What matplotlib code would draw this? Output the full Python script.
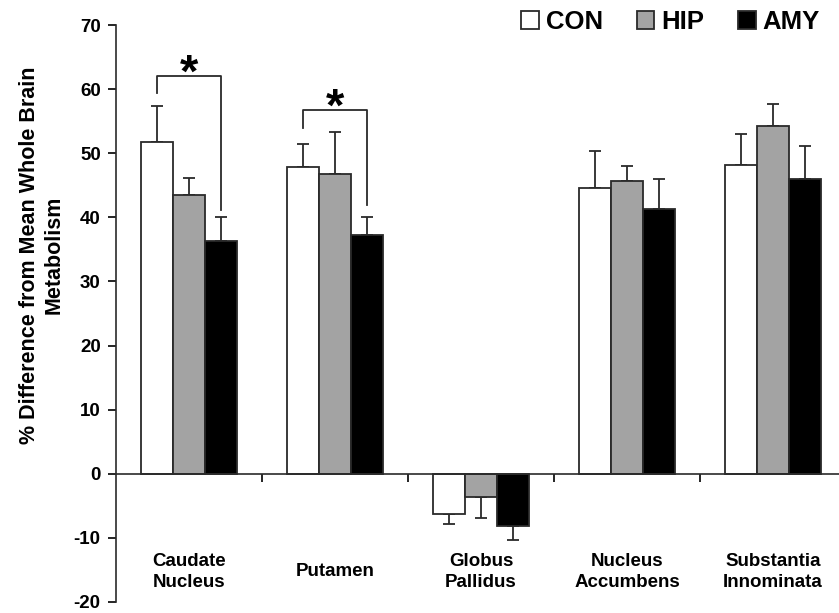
import numpy as np
import matplotlib.pyplot as plt

plt.rcParams['font.family'] = 'Liberation Sans'
plt.rcParams['font.weight'] = 'bold'
plt.rcParams['axes.unicode_minus'] = False

regions = ['Caudate\nNucleus', 'Putamen', 'Globus\nPallidus', 'Nucleus\nAccumbens', 'Substantia\nInnominata']
groups = ['CON', 'HIP', 'AMY']
con = [51.8, 47.9, -6.2, 44.5, 48.2]
hip = [43.5, 46.8, -3.6, 45.6, 54.3]
amy = [36.3, 37.2, -8.2, 41.3, 46.0]
con_err = [5.6, 3.6, 1.7, 5.8, 4.8]
hip_err = [2.6, 6.5, 3.3, 2.4, 3.4]
amy_err = [3.8, 2.9, 2.1, 4.7, 5.2]
colors = ['white', '#a3a3a3', 'black']

fig = plt.figure(figsize=(8.39, 6.13), dpi=100)
ax = fig.add_axes([116/839, 11/613, 730/839, 577/613])

x = np.arange(len(regions))
w = 0.22
series = [con, hip, amy]
errs = [con_err, hip_err, amy_err]
for i in range(3):
    pos = x + (i - 1) * w
    vals = np.array(series[i])
    e = np.array(errs[i])
    ax.bar(pos, vals, w, color=colors[i], edgecolor='#2a2a2a', linewidth=1.3, label=groups[i], zorder=2)
    # one-sided error bars, away from zero
    lo = np.where(vals < 0, e, 0)
    hi = np.where(vals >= 0, e, 0)
    ax.errorbar(pos, vals, yerr=[lo, hi], fmt='none', ecolor='#2a2a2a', elinewidth=1.3, capsize=4, capthick=1.3, zorder=1)

# significance brackets
brackets = [(0, 62.0, 59.4, 41.2, 62.3), (1, 56.7, 54.0, 42.0, 56.9)]
for g, top, left_end, right_end, star_y in brackets:
    xl, xr = g - w, g + w
    ax.plot([xl, xl, xr, xr], [left_end, top, top, right_end], color='#2a2a2a', lw=1.3)
    ax.text(g, star_y, '*', ha='center', va='center', fontsize=34, fontweight='bold')

ax.set_xlim(-0.5, 4.5)
ax.set_ylim(-20, 70)
ax.set_yticks(np.arange(-20, 71, 10))
ax.tick_params(axis='y', direction='out', length=6, width=1.2, labelsize=13.5, pad=5)
ax.set_xticks(x + 0.5)
ax.set_xticklabels([])
ax.tick_params(axis='x', direction='out', length=6, width=1.2)
ax.spines['bottom'].set_position(('data', 0))
ax.spines['top'].set_visible(False)
ax.spines['right'].set_visible(False)
for s in ['left', 'bottom']:
    ax.spines[s].set_linewidth(1.2)
    ax.spines[s].set_color('#2a2a2a')

for i, r in enumerate(regions):
    ax.text(x[i], -15.3, r, ha='center', va='center', fontsize=13.5, fontweight='bold', linespacing=1.3)

fig.text(0.0495, 0.584, '% Difference from Mean Whole Brain\nMetabolism', rotation=90,
         ha='center', va='center', fontsize=15.5, fontweight='bold', linespacing=1.25)

leg = ax.legend(loc='upper right', bbox_to_anchor=((820 - 116) / 730, 1.026), ncol=3, frameon=False,
                fontsize=18.5, handlelength=0.7, handleheight=0.7, handletextpad=0.27,
                columnspacing=1.3, borderaxespad=0, borderpad=0)

fig.savefig('out.png', dpi=100)
